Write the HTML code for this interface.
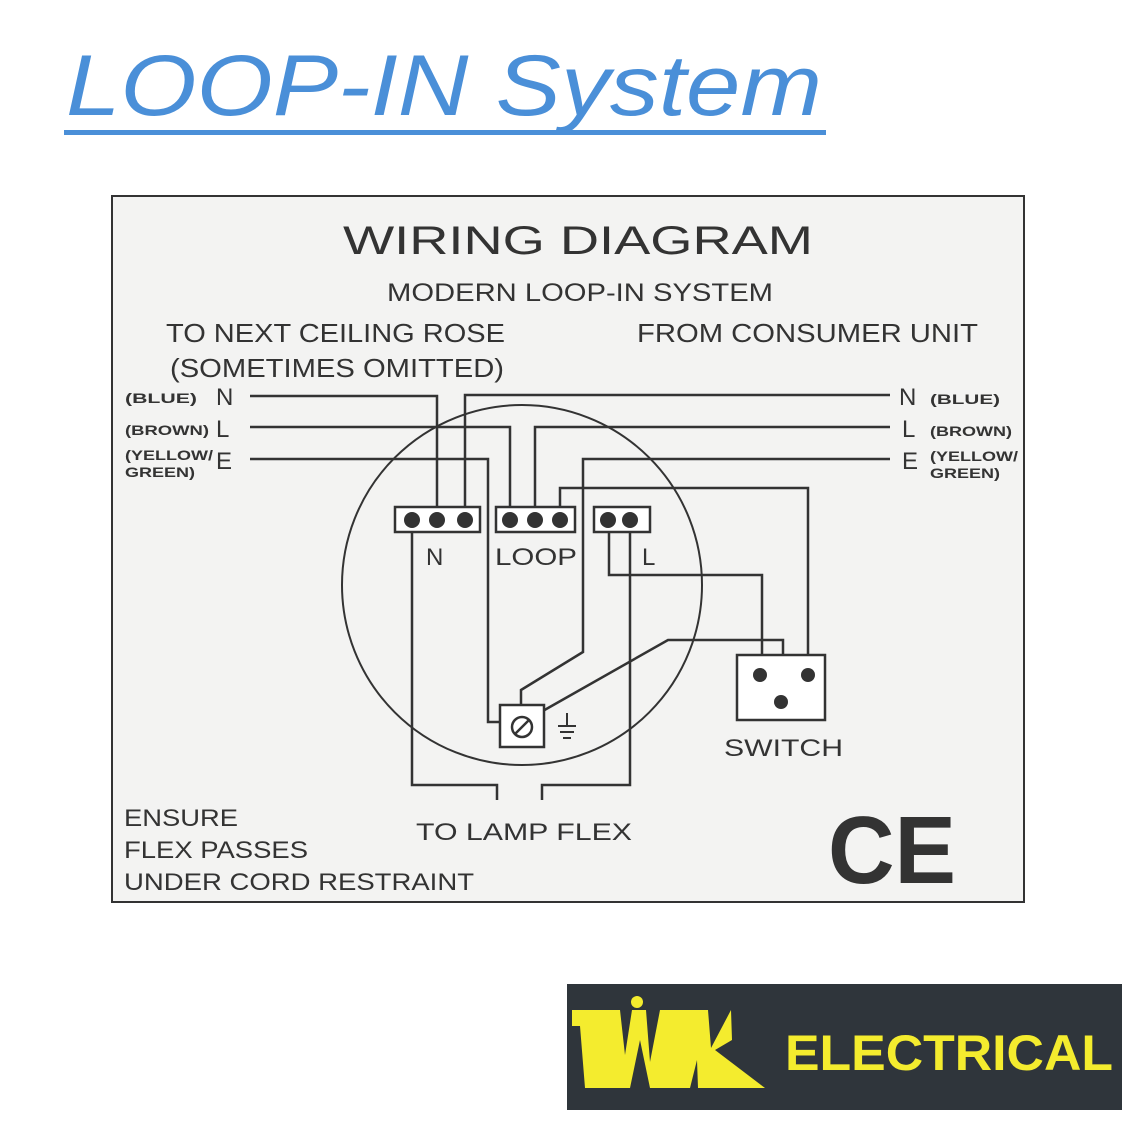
<!DOCTYPE html>
<html><head><meta charset="utf-8"><style>
html,body{margin:0;padding:0;background:#fff;}
svg{display:block;}
</style></head><body>
<svg width="1134" height="1134" viewBox="0 0 1134 1134" xmlns="http://www.w3.org/2000/svg">
<rect width="1134" height="1134" fill="#fff"/>
<text x="66" y="115" font-family="Liberation Sans, sans-serif" font-style="italic" font-size="86" fill="#4a8fd8" textLength="756" lengthAdjust="spacingAndGlyphs">LOOP-IN System</text>
<rect x="64" y="130" width="762" height="5" fill="#4a8fd8"/>

<rect x="112" y="196" width="912" height="706" fill="#f3f3f2" stroke="#333" stroke-width="2"/>
<g font-family="Liberation Sans, sans-serif" fill="#333" lengthAdjust="spacingAndGlyphs">
<text x="343" y="254" font-size="40" textLength="470" lengthAdjust="spacingAndGlyphs">WIRING DIAGRAM</text>
<text x="387" y="301" font-size="25" textLength="386" lengthAdjust="spacingAndGlyphs">MODERN LOOP-IN SYSTEM</text>
<text x="166" y="342" font-size="26" textLength="339" lengthAdjust="spacingAndGlyphs">TO NEXT CEILING ROSE</text>
<text x="170" y="377" font-size="26" textLength="334" lengthAdjust="spacingAndGlyphs">(SOMETIMES OMITTED)</text>
<text x="637" y="342" font-size="26" textLength="341" lengthAdjust="spacingAndGlyphs">FROM CONSUMER UNIT</text>
<g font-size="14" font-weight="bold">
<text x="125" y="403" textLength="72" lengthAdjust="spacingAndGlyphs">(BLUE)</text>
<text x="125" y="435" textLength="84" lengthAdjust="spacingAndGlyphs">(BROWN)</text>
<text x="125" y="460" textLength="88" lengthAdjust="spacingAndGlyphs">(YELLOW/</text>
<text x="125" y="477" textLength="70" lengthAdjust="spacingAndGlyphs">GREEN)</text>
<text x="930" y="404" textLength="70" lengthAdjust="spacingAndGlyphs">(BLUE)</text>
<text x="930" y="436" textLength="82" lengthAdjust="spacingAndGlyphs">(BROWN)</text>
<text x="930" y="461" textLength="88" lengthAdjust="spacingAndGlyphs">(YELLOW/</text>
<text x="930" y="478" textLength="70" lengthAdjust="spacingAndGlyphs">GREEN)</text>
</g>
<g font-size="24">
<text x="216" y="405">N</text><text x="216" y="437">L</text><text x="216" y="469">E</text>
<text x="899" y="405">N</text><text x="902" y="437">L</text><text x="902" y="469">E</text>
<text x="426" y="565">N</text><text x="495" y="565" textLength="82" lengthAdjust="spacingAndGlyphs">LOOP</text><text x="642" y="565">L</text>
<text x="724" y="756" textLength="119" lengthAdjust="spacingAndGlyphs">SWITCH</text>
<text x="416" y="840" textLength="216" lengthAdjust="spacingAndGlyphs">TO LAMP FLEX</text>
<text x="124" y="826" textLength="114" lengthAdjust="spacingAndGlyphs">ENSURE</text>
<text x="124" y="858" textLength="184" lengthAdjust="spacingAndGlyphs">FLEX PASSES</text>
<text x="124" y="890" textLength="350" lengthAdjust="spacingAndGlyphs">UNDER CORD RESTRAINT</text>
</g>
<text x="828" y="883" font-size="96" font-weight="bold" textLength="128" lengthAdjust="spacingAndGlyphs">CE</text>
</g>

<g fill="none" stroke="#333" stroke-width="2.5">
<circle cx="522" cy="585" r="180" stroke-width="2"/>
<path d="M250 396 H437 V512"/>
<path d="M890 395 H465 V512"/>
<path d="M250 427 H510 V512"/>
<path d="M890 427 H535 V512"/>
<path d="M250 459 H488 V722 H502"/>
<path d="M890 459 H583 V652 L521 690 V706"/>
<path d="M560 512 V488 H808 V670"/>
<path d="M609 520 V575 H762 V670"/>
<path d="M541 712 L668 640 H783 V700"/>
<path d="M412 520 V785 H497 V800"/>
<path d="M630 520 V785 H542 V800"/>
</g>
<g fill="#fff" stroke="#333" stroke-width="2.5">
<rect x="395" y="507" width="85" height="25"/>
<rect x="496" y="507" width="79" height="25"/>
<rect x="594" y="507" width="56" height="25"/>
<rect x="737" y="655" width="88" height="65"/>
<rect x="500" y="705" width="44" height="42"/>
<circle cx="522" cy="727" r="10"/>
</g>
<path d="M515 734 L529 720" stroke="#333" stroke-width="2.5"/>
<path d="M567 713 V726 M558 726 H576 M560 732 H574 M563 738 H571" stroke="#333" stroke-width="2"/>
<g fill="#333">
<circle cx="412" cy="520" r="8"/><circle cx="437" cy="520" r="8"/><circle cx="465" cy="520" r="8"/>
<circle cx="510" cy="520" r="8"/><circle cx="535" cy="520" r="8"/><circle cx="560" cy="520" r="8"/>
<circle cx="608" cy="520" r="8"/><circle cx="630" cy="520" r="8"/>
<circle cx="760" cy="675" r="7"/><circle cx="781" cy="702" r="7"/><circle cx="808" cy="675" r="7"/>
</g>

<rect x="567" y="984" width="555" height="126" fill="#2f353b"/>
<polygon points="572,1010 620,1010 625,1055 632,1010 646,1010 650,1062 660,1010 708,1010 711,1048 731,1010 732,1040 715,1050 765,1088 698,1088 697,1060 690,1088 650,1088 640,1040 630,1088 585,1088 580,1026 572,1026" fill="#f4ec2e"/>
<circle cx="637" cy="1002" r="6" fill="#f4ec2e"/>
<text x="785" y="1070" font-family="Liberation Sans, sans-serif" font-weight="bold" font-size="50" fill="#f4ec2e" textLength="328" lengthAdjust="spacingAndGlyphs">ELECTRICAL</text>
</svg>
</body></html>
